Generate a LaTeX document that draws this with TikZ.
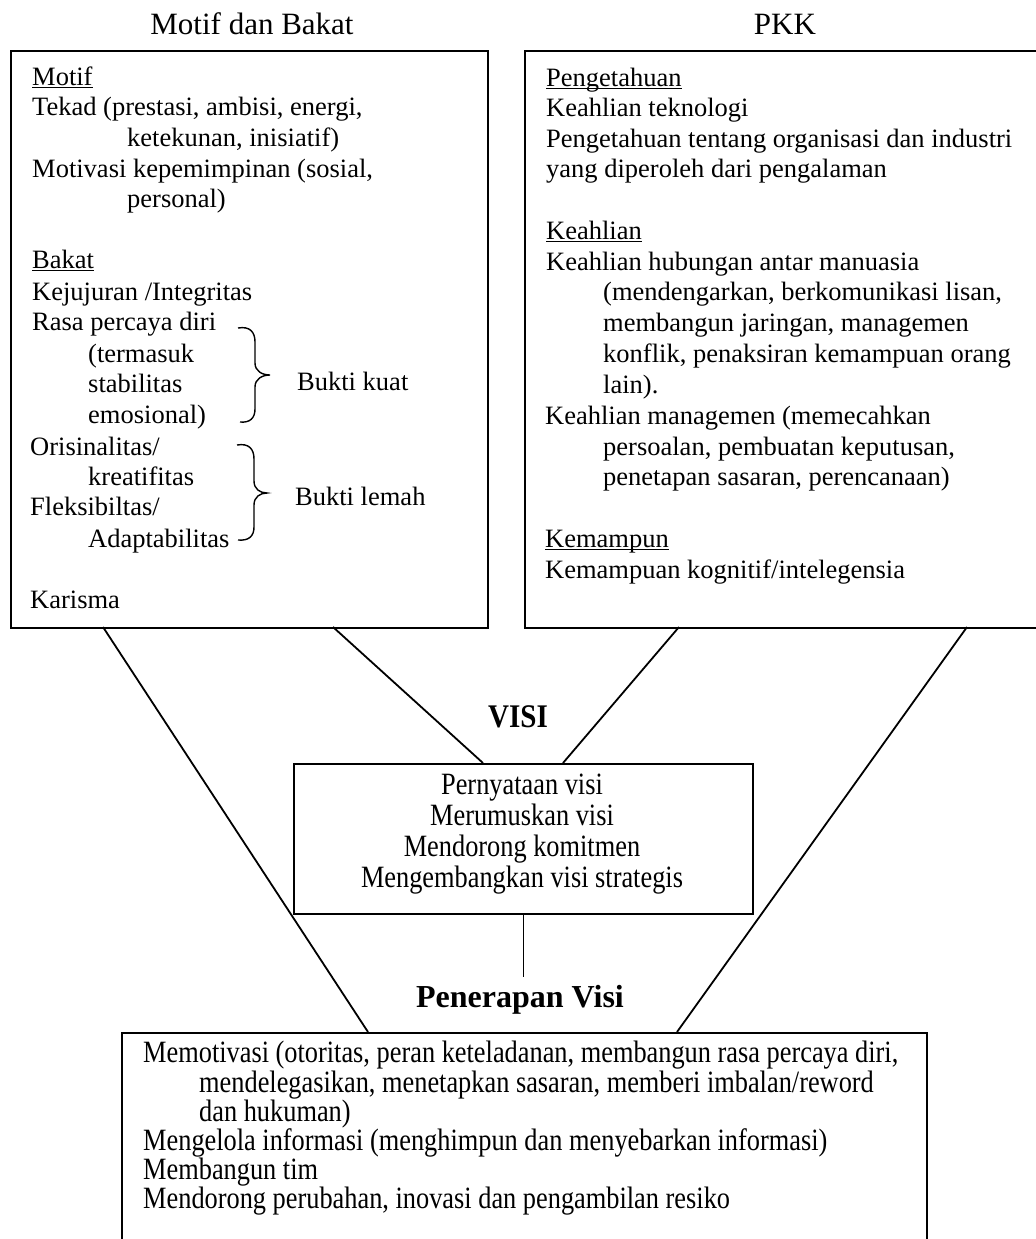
\documentclass[tikz,border=0pt]{standalone}
\usepackage{fontspec}
\setmainfont{Liberation Serif}
\newfontfamily\narrowserif[FakeStretch=0.85]{Liberation Serif}
\newfontfamily\headserif[FakeStretch=0.88]{Liberation Serif}
% underline that runs just under the baseline, through descenders
\newcommand\ulword[1]{\setbox0\hbox{#1}\rlap{\rule[-2.6bp]{\wd0}{1.1bp}}\box0}
\begin{document}
\begin{tikzpicture}[x=1bp, y=-1bp,
  box/.style={draw, line width=1.8bp, rectangle, inner sep=0pt, anchor=north west},
  link/.style={line width=1.8bp},
  stem/.style={line width=1bp},
  txt/.style={inner sep=0pt, anchor=base west, font=\fontsize{26.5bp}{30bp}\selectfont},
  ctxt/.style={inner sep=0pt, anchor=base, font=\narrowserif\fontsize{31bp}{30bp}\selectfont},
  ltxt/.style={inner sep=0pt, anchor=base west, font=\narrowserif\fontsize{31bp}{30bp}\selectfont},
  title/.style={inner sep=0pt, anchor=base, font=\fontsize{31bp}{34bp}\selectfont},
  bigbold/.style={inner sep=0pt, anchor=base, font=\headserif\bfseries\fontsize{33bp}{36bp}\selectfont},
  midbold/.style={inner sep=0pt, anchor=base, font=\bfseries\fontsize{32bp}{36bp}\selectfont},
  brace/.style={line width=1.4bp}
]
\useasboundingbox (0,0) rectangle (1036,1239);
\clip (0,0) rectangle (1036,1239);
\fill[white] (0,0) rectangle (1036,1239);

% ---------- headings ----------
\node[title] (tmotif) at (252,34) {Motif dan Bakat};
\node[title] (tpkk) at (785,34) {PKK};

% ---------- boxes ----------
\node[box, minimum width=477bp, minimum height=577bp] (motifbox) at (10,50) {};
\node[box, minimum width=540bp, minimum height=577bp] (pkkbox) at (524,50) {};
\node[box, line width=1.5bp, minimum width=459bp, minimum height=150bp] (visibox) at (293,763) {};
\node[box, minimum width=805bp, minimum height=260bp] (applybox) at (121,1032) {};

% ---------- Motif dan Bakat ----------
\node[txt] (m1) at (32,85) {\ulword{Motif}};
\node[txt] (m2) at (32,115) {Tekad (prestasi, ambisi, energi,};
\node[txt] (m3) at (127,146) {ketekunan, inisiatif)};
\node[txt] (m4) at (32,177) {Motivasi kepemimpinan (sosial,};
\node[txt] (m5) at (127,207) {personal)};
\node[txt] (m6) at (32,268) {\ulword{Bakat}};
\node[txt] (m7) at (32,300) {Kejujuran /Integritas};
\node[txt] (m8) at (32,330) {Rasa percaya diri};
\node[txt] (m9) at (88,362) {(termasuk};
\node[txt] (m10) at (88,392) {stabilitas};
\node[txt] (m11) at (88,423) {emosional)};
\node[txt] (m12) at (30,455) {Orisinalitas/};
\node[txt] (m13) at (88,485) {kreatifitas};
\node[txt] (m14) at (30,515) {Fleksibiltas/};
\node[txt] (m15) at (88,547) {Adaptabilitas};
\node[txt] (m16) at (30,608) {Karisma};

% braces grouping the traits
\draw[brace] (238,328) .. controls (250,326) and (255,332) .. (255,342) -- (255,363)
  .. controls (255,371) and (262,375) .. (270,375)
  .. controls (262,375) and (255,379) .. (255,387) -- (255,409)
  .. controls (255,418) and (250,423) .. (240,422);
\draw[brace] (237,445) .. controls (249,443) and (254,449) .. (254,459) -- (254,481)
  .. controls (254,489) and (260,493) .. (267,493)
  .. controls (260,493) and (254,497) .. (254,505) -- (254,527)
  .. controls (254,536) and (249,541) .. (238,540);
\node[txt] (strong) at (297,390) {Bukti kuat};
\node[txt] (weak) at (295,505) {Bukti lemah};

% ---------- PKK ----------
\node[txt] (p1) at (546,86) {\ulword{Pengetahuan}};
\node[txt] (p2) at (546,116) {Keahlian teknologi};
\node[txt] (p3) at (546,147) {Pengetahuan tentang organisasi dan industri};
\node[txt] (p4) at (546,177) {yang diperoleh dari pengalaman};
\node[txt] (p5) at (546,239) {\ulword{Keahlian}};
\node[txt] (p6) at (546,270) {Keahlian hubungan antar manuasia};
\node[txt] (p7) at (603,300) {(mendengarkan, berkomunikasi lisan,};
\node[txt] (p8) at (603,331) {membangun jaringan, managemen};
\node[txt] (p9) at (603,362) {konflik, penaksiran kemampuan orang};
\node[txt] (p10) at (603,393) {lain).};
\node[txt] (p11) at (545,424) {Keahlian managemen (memecahkan};
\node[txt] (p12) at (603,455) {persoalan, pembuatan keputusan,};
\node[txt] (p13) at (603,485) {penetapan sasaran, perencanaan)};
\node[txt] (p14) at (545,547) {\ulword{Kemampun}};
\node[txt] (p15) at (545,578) {Kemampuan kognitif/intelegensia};

% ---------- VISI ----------
\node[bigbold] (tvisi) at (518,727) {VISI};
\node[ctxt] (v1) at (522,794) {Pernyataan visi};
\node[ctxt] (v2) at (522,825) {Merumuskan visi};
\node[ctxt] (v3) at (522,856) {Mendorong komitmen};
\node[ctxt] (v4) at (522,887) {Mengembangkan visi strategis};

% ---------- Penerapan Visi ----------
\node[midbold] (tapply) at (520,1007) {Penerapan Visi};
\node[ltxt] (a1) at (143,1062) {Memotivasi (otoritas, peran keteladanan, membangun rasa percaya diri,};
\node[ltxt] (a2) at (199,1092) {mendelegasikan, menetapkan sasaran, memberi imbalan/reword};
\node[ltxt] (a3) at (199,1121) {dan hukuman)};
\node[ltxt] (a4) at (143,1150) {Mengelola informasi (menghimpun dan menyebarkan informasi)};
\node[ltxt] (a5) at (143,1179) {Membangun tim};
\node[ltxt] (a6) at (143,1208) {Mendorong perubahan, inovasi dan pengambilan resiko};

% ---------- connector end points ----------
\coordinate (mOut) at (103,627);
\coordinate (mIn) at (333,627);
\coordinate (pIn) at (679,627);
\coordinate (pOut) at (967,627);
\coordinate (vL) at (483,763);
\coordinate (vR) at (563,763);
\coordinate (aL) at (368,1032);
\coordinate (aR) at (677,1032);
\coordinate (stemTop) at (523,913);
\coordinate (stemEnd) at (523,977);

\draw[link] (mOut) -- (aL);
\draw[link] (mIn) -- (vL);
\draw[link] (pIn) -- (vR);
\draw[link] (pOut) -- (aR);
\draw[stem] (stemTop) -- (stemEnd);
\end{tikzpicture}
\end{document}
